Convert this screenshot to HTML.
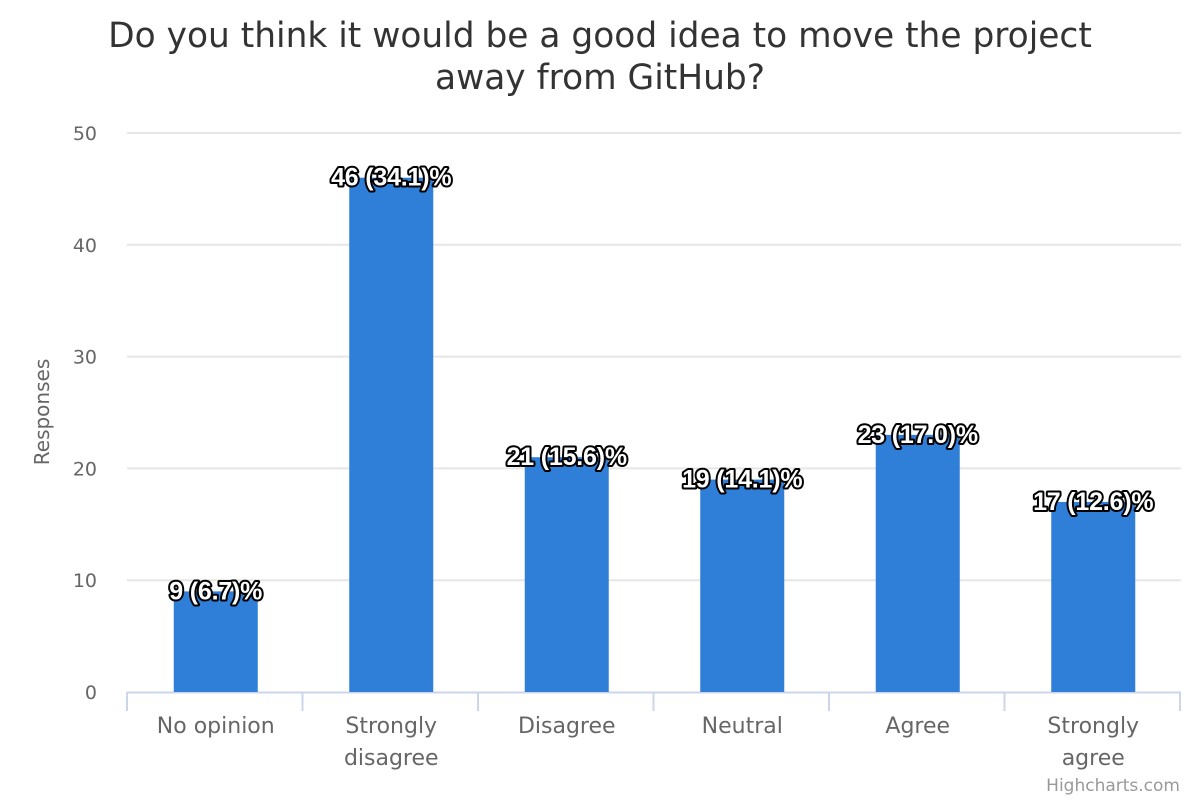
<!DOCTYPE html>
<html><head><meta charset="utf-8"><style>
body{margin:0;background:#fff}
svg{display:block;font-family:"DejaVu Sans",sans-serif}
</style></head><body>
<svg id="chart" width="1200" height="800">
<text x="600" y="47" text-anchor="middle" font-size="34.4" fill="#333"><tspan x="600">Do you think it would be a good idea to move the project</tspan><tspan x="600" dy="42">away from GitHub?</tspan></text>
<text transform="translate(49,412) rotate(-90)" text-anchor="middle" font-size="20" fill="#666">Responses</text>
<g id="grid"></g><g id="bars"></g><g id="labels"></g>
<text x="1180" y="791" text-anchor="end" font-size="17" fill="#999">Highcharts.com</text>
</svg>
<script>
const categories=[["No opinion"],["Strongly","disagree"],["Disagree"],["Neutral"],["Agree"],["Strongly","agree"]];
const values=[9,46,21,19,23,17];
const percents=["6.7","34.1","15.6","14.1","17.0","12.6"];
const yTicks=[0,10,20,30,40,50];
const NS="http://www.w3.org/2000/svg";
const x0=128,x1=1181,yBase=692,yTop=133,yMax=50;
const y=v=>yBase-(v/yMax)*(yBase-yTop);
const bw=(x1-x0)/categories.length;
const cx=i=>x0+bw*(i+0.5);
function mk(t,a,p){const e=document.createElementNS(NS,t);for(const k in a)e.setAttribute(k,a[k]);p.appendChild(e);return e;}
const g=document.getElementById('grid'),b=document.getElementById('bars'),l=document.getElementById('labels');
yTicks.forEach(t=>{
 if(t>0){const ln=mk('line',{x1:x0-1,x2:x1,y1:y(t),y2:y(t),stroke:'#e6e6e6','stroke-width':2},g);
 
 }
 const tx=mk('text',{x:97,y:y(t)+7,'text-anchor':'end','font-size':19,fill:'#666'},g);tx.textContent=t;
 
 
});
const ax=mk('line',{x1:x0-1,x2:x1,y1:yBase+0.5,y2:yBase+0.5,stroke:'#ccd6eb','stroke-width':2},g);


for(let i=0;i<=categories.length;i++){const tk=mk('line',{x1:x0-1+bw*i,x2:x0-1+bw*i,y1:yBase,y2:yBase+19,stroke:'#ccd6eb','stroke-width':2},g);
 
 }
categories.forEach((c,i)=>{
 const t=mk('text',{'text-anchor':'middle','font-size':22,fill:'#666'},g);
 c.forEach((s,j)=>{const sp=mk('tspan',{x:cx(i),y:733+j*32},t);sp.textContent=s;});
 
 
 const r=mk('rect',{x:cx(i)-42,y:y(values[i]),width:84,height:yBase-y(values[i]),fill:'#2f7ed8'},b);
 
 
 const d=mk('text',{x:cx(i),y:y(values[i])+8,'text-anchor':'middle','font-size':25,'font-weight':'bold',fill:'#fff',stroke:'#000','stroke-width':4,'stroke-linejoin':'round','paint-order':'stroke','font-family':'"Liberation Sans",sans-serif','letter-spacing':'-0.2'},l);
 d.textContent=values[i]+' ('+percents[i]+')%';
 
 
});
</script>
</body></html>
